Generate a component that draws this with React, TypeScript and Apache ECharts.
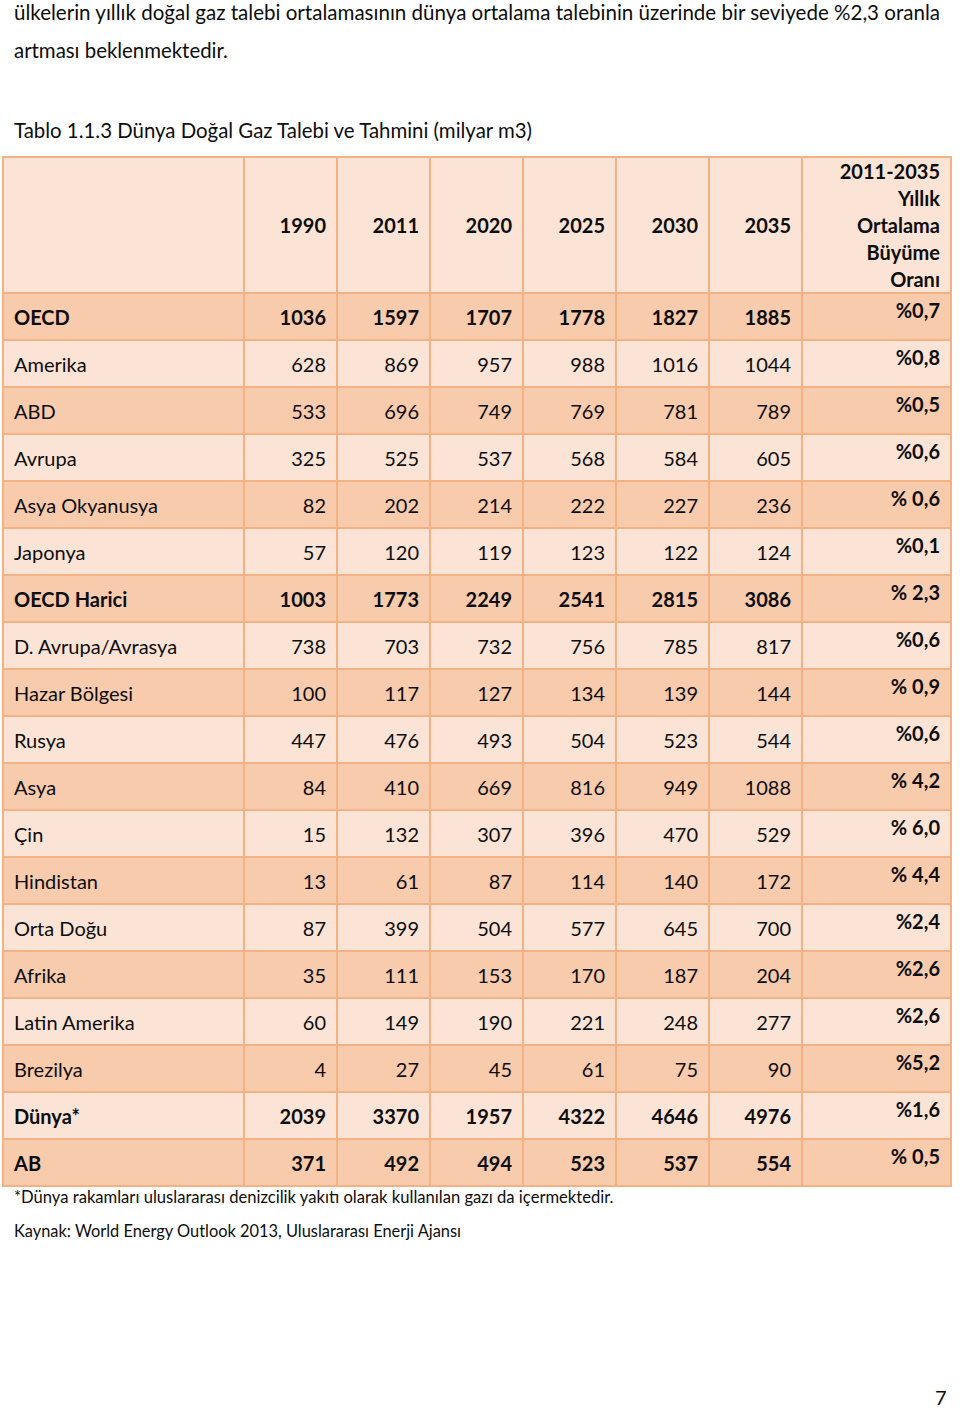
import React, { useEffect, useRef } from "react";
import * as echarts from "echarts";

// ---- Data ----
const regions = [
  "OECD", "Amerika", "ABD", "Avrupa", "Asya Okyanusya", "Japonya", "OECD Harici",
  "D. Avrupa/Avrasya", "Hazar Bölgesi", "Rusya", "Asya", "Çin", "Hindistan",
  "Orta Doğu", "Afrika", "Latin Amerika", "Brezilya", "Dünya*", "AB",
];
const boldRegions = ["OECD", "OECD Harici", "Dünya*", "AB"];
const years = ["1990", "2011", "2020", "2025", "2030", "2035"];
const v1990 = [1036, 628, 533, 325, 82, 57, 1003, 738, 100, 447, 84, 15, 13, 87, 35, 60, 4, 2039, 371];
const v2011 = [1597, 869, 696, 525, 202, 120, 1773, 703, 117, 476, 410, 132, 61, 399, 111, 149, 27, 3370, 492];
const v2020 = [1707, 957, 749, 537, 214, 119, 2249, 732, 127, 493, 669, 307, 87, 504, 153, 190, 45, 1957, 494];
const v2025 = [1778, 988, 769, 568, 222, 123, 2541, 756, 134, 504, 816, 396, 114, 577, 170, 221, 61, 4322, 523];
const v2030 = [1827, 1016, 781, 584, 227, 122, 2815, 785, 139, 523, 949, 470, 140, 645, 187, 248, 75, 4646, 537];
const v2035 = [1885, 1044, 789, 605, 236, 124, 3086, 817, 144, 544, 1088, 529, 172, 700, 204, 277, 90, 4976, 554];
const growth = [
  "%0,7", "%0,8", "%0,5", "%0,6", "% 0,6", "%0,1", "% 2,3", "%0,6", "% 0,9", "%0,6",
  "% 4,2", "% 6,0", "% 4,4", "%2,4", "%2,6", "%2,6", "%5,2", "%1,6", "% 0,5",
];
const growthHeader = "2011-2035\nYıllık\nOrtalama\nBüyüme\nOranı";
const yearValues = [v1990, v2011, v2020, v2025, v2030, v2035];

const paraLine1 =
  "ülkelerin yıllık doğal gaz talebi ortalamasının dünya ortalama talebinin üzerinde bir seviyede %2,3 oranla";
const paraLine2 = "artması beklenmektedir.";
const tableTitle = "Tablo 1.1.3 Dünya Doğal Gaz Talebi ve Tahmini (milyar m3)";
const footnote = "*Dünya rakamları uluslararası denizcilik yakıtı olarak kullanılan gazı da içermektedir.";
const source = "Kaynak: World Energy Outlook 2013, Uluslararası Enerji Ajansı";
const pageNumber = "7";

// ---- Layout ----
const COL_W = [241, 93, 93, 93, 93, 93, 93, 149];
const HEADER_H = 136;
const ROW_H = 47;
const TABLE_W = COL_W.reduce((a, b) => a + b, 0);
const TABLE_H = HEADER_H + ROW_H * regions.length;
const FONT = "Lato, 'Open Sans', 'Noto Sans', sans-serif";
const BORDER = "#f4b183";
const LIGHT = "#fbe4d5";
const DARK = "#f8cbad";

function buildCells() {
  const cells: any[] = [];
  for (let r = -1; r < regions.length; r++) {
    let x = 0;
    const y0 = r < 0 ? 0 : HEADER_H + r * ROW_H;
    const h = r < 0 ? HEADER_H : ROW_H;
    for (let c = 0; c < COL_W.length; c++) {
      cells.push({ value: [x, x + COL_W[c], y0, y0 + h, r, c] });
      x += COL_W[c];
    }
  }
  return cells;
}

export default function App() {
  const ref = useRef<HTMLDivElement>(null);
  useEffect(() => {
    if (!ref.current) return;
    const chart = echarts.init(ref.current, undefined, { renderer: "svg" });
    const renderItem = (params: any, api: any) => {
      const x0 = api.value(0), x1 = api.value(1), y0 = api.value(2), y1 = api.value(3);
      const r = api.value(4), c = api.value(5);
      const p0 = api.coord([x0, y0]);
      const p1 = api.coord([x1, y1]);
      const w = p1[0] - p0[0];
      const h = p1[1] - p0[1];
      const fill = r < 0 ? LIGHT : r % 2 === 0 ? DARK : LIGHT;
      const children: any[] = [
        {
          type: "rect",
          shape: { x: p0[0], y: p0[1], width: w, height: h },
          style: { fill, stroke: BORDER, lineWidth: 2 },
        },
      ];
      let text = "";
      let bold = false;
      let align = "right";
      let tx = p1[0] - 11;
      let ty = p0[1] + h / 2 + 0.5;
      const lineHeight = 27;
      if (r < 0) {
        bold = true;
        if (c === 0) text = "";
        else if (c <= 6) text = years[c - 1];
        else text = growthHeader;
        ty = p0[1] + h / 2;
      } else {
        const name = regions[r];
        const isBold = boldRegions.indexOf(name) >= 0;
        if (c === 0) {
          text = name;
          align = "left";
          tx = p0[0] + 11;
          bold = isBold;
        } else if (c <= 6) {
          text = String(yearValues[c - 1][r]);
          bold = isBold;
        } else {
          text = growth[r];
          bold = true;
          ty = p0[1] + 17;
        }
      }
      if (text) {
        children.push({
          type: "text",
          style: {
            text,
            x: tx,
            y: ty,
            align,
            verticalAlign: "middle",
            fontFamily: FONT,
            fontSize: 20,
            fontWeight: bold ? "bold" : "normal",
            lineHeight,
            fill: "#0d0d0d",
          },
        });
      }
      return { type: "group", children };
    };

    const txt = (text: string, x: number, y: number, size: number, align = "left") => ({
      type: "text",
      x,
      y,
      style: {
        text,
        fontFamily: FONT,
        fontSize: size,
        fill: "#0d0d0d",
        align,
        verticalAlign: "middle",
      },
    });

    chart.setOption({
      animation: false,
      backgroundColor: "#ffffff",
      grid: { left: 3, top: 157, width: TABLE_W, height: TABLE_H },
      xAxis: { type: "value", min: 0, max: TABLE_W, show: false },
      yAxis: { type: "value", min: 0, max: TABLE_H, inverse: true, show: false },
      series: [
        {
          type: "custom",
          coordinateSystem: "cartesian2d",
          renderItem,
          clip: false,
          silent: true,
          data: buildCells(),
        },
      ],
      graphic: [
        txt(paraLine1, 14, 12, 20.55),
        txt(paraLine2, 14, 50, 20.4),
        txt(tableTitle, 14, 130, 20.4),
        txt(footnote, 14, 1197, 16.6),
        txt(source, 14, 1230, 16.4),
        txt(pageNumber, 935, 1397, 20),
      ],
    });
    return () => chart.dispose();
  }, []);
  return (
    <div
      ref={ref}
      style={{ position: "absolute", left: 0, top: 0, width: 960, height: 1408 }}
    />
  );
}
